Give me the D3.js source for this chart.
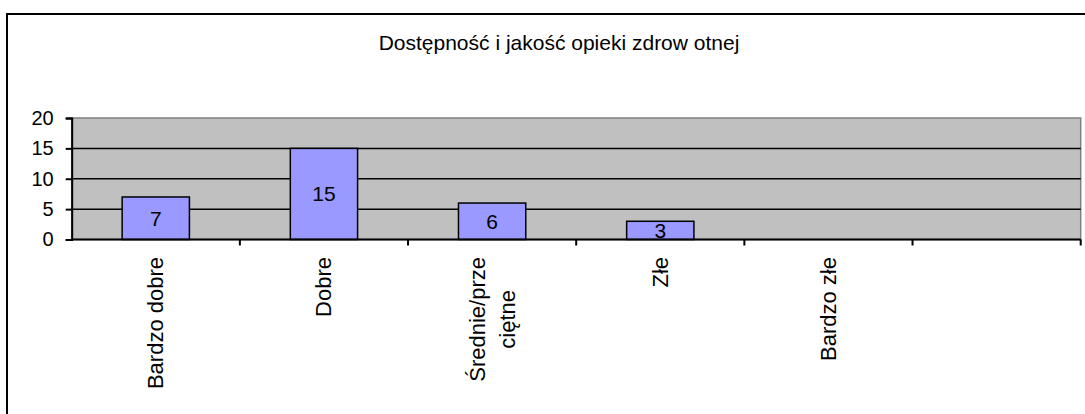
<!DOCTYPE html>
<html>
<head>
<meta charset="utf-8">
<script src="https://cdn.jsdelivr.net/npm/d3@7"></script>
<style>
  body { margin: 0; background: #fff; }
  svg { display: block; font-family: "Liberation Sans", Arial, sans-serif; }
</style>
</head>
<body>
<script>
'use strict';

var width = 1085,
    height = 414;

// data
var categories = ["Bardzo dobre", "Dobre", "Średnie/przeciętne", "Złe", "Bardzo złe", ""];
var labelLines = [["Bardzo dobre"], ["Dobre"], ["Średnie/prze", "ciętne"], ["Złe"], ["Bardzo złe"], [""]];
var values = [7, 15, 6, 3, null, null];
var yTicks = [0, 5, 10, 15, 20];
var title = "Dostępność i jakość opieki zdrow otnej";

var plot = {left: 71.7, right: 1080.7, top: 118, bottom: 239.5};

var svg = d3.select("body").append("svg")
  .attr("width", width)
  .attr("height", height);

// outer frame (runs off the right and bottom edges)
svg.append("rect")
  .attr("x", 7).attr("y", 14)
  .attr("width", 1120).attr("height", 440)
  .attr("fill", "#fff")
  .attr("stroke", "#000")
  .attr("stroke-width", 2);

svg.append("text")
  .attr("x", 559).attr("y", 50)
  .attr("text-anchor", "middle")
  .attr("font-size", 21)
  .text(title);

var x = d3.scaleBand()
  .domain(categories.map(function(d, i) { return i; }))
  .range([plot.left, plot.right])
  .padding(0);

var y = d3.scaleLinear()
  .domain([0, 20])
  .range([plot.bottom, plot.top]);

// plot background
svg.append("rect")
  .attr("x", plot.left).attr("y", plot.top)
  .attr("width", plot.right - plot.left)
  .attr("height", plot.bottom - plot.top)
  .attr("fill", "#c0c0c0")
  .attr("stroke", "#808080")
  .attr("stroke-width", 1.5);

// gridlines
svg.selectAll("line.grid")
  .data(yTicks.filter(function(t) { return t > 0 && t < 20; }))
  .enter().append("line")
  .attr("class", "grid")
  .attr("x1", plot.left).attr("x2", plot.right)
  .attr("y1", function(d) { return y(d); })
  .attr("y2", function(d) { return y(d); })
  .attr("stroke", "#000")
  .attr("stroke-width", 1.5);

// bars
var barW = x.bandwidth() / 2.5;
var bars = values.map(function(v, i) { return {i: i, v: v}; })
  .filter(function(d) { return d.v != null; });

svg.selectAll("rect.bar")
  .data(bars)
  .enter().append("rect")
  .attr("class", "bar")
  .attr("x", function(d) { return x(d.i) + (x.bandwidth() - barW) / 2; })
  .attr("y", function(d) { return y(d.v); })
  .attr("width", barW)
  .attr("height", function(d) { return y(0) - y(d.v); })
  .attr("fill", "#9999ff")
  .attr("stroke", "#000")
  .attr("stroke-width", 1.5);

svg.selectAll("text.val")
  .data(bars)
  .enter().append("text")
  .attr("class", "val")
  .attr("x", function(d) { return x(d.i) + x.bandwidth() / 2; })
  .attr("y", function(d) { return (y(d.v) + y(0)) / 2; })
  .attr("dy", "0.36em")
  .attr("text-anchor", "middle")
  .attr("font-size", 21)
  .text(function(d) { return d.v; });

// y axis
var yAxis = svg.append("g")
  .attr("transform", "translate(" + plot.left + ",0)")
  .call(d3.axisLeft(y).tickValues(yTicks).tickSize(6).tickPadding(12));
yAxis.select(".domain").attr("stroke-width", 2);
yAxis.selectAll(".tick line").attr("stroke-width", 2);
yAxis.selectAll(".tick text")
  .attr("font-size", 20)
  .attr("font-family", "Liberation Sans, Arial, sans-serif")
  .attr("fill", "#000");

// x axis line and ticks at category boundaries
svg.append("line")
  .attr("x1", plot.left).attr("x2", plot.right)
  .attr("y1", plot.bottom).attr("y2", plot.bottom)
  .attr("stroke", "#000")
  .attr("stroke-width", 2);

var bounds = categories.map(function(d, i) { return x(i); }).concat([x.range()[1]]);
svg.selectAll("line.xtick")
  .data(bounds.slice(1))
  .enter().append("line")
  .attr("class", "xtick")
  .attr("x1", function(d) { return d; }).attr("x2", function(d) { return d; })
  .attr("y1", plot.bottom).attr("y2", plot.bottom + 6)
  .attr("stroke", "#000")
  .attr("stroke-width", 2);

// rotated category labels
var lineH = 30;
var labelTop = 257;
labelLines.forEach(function(lines, i) {
  var cx = x(i) + x.bandwidth() / 2;
  var g = svg.append("g");
  var texts = lines.map(function(l) {
    return g.append("text")
      .attr("font-size", 22)
      .attr("text-anchor", "middle")
      .text(l);
  });
  var maxLen = d3.max(texts, function(t) { return t.node().getComputedTextLength(); });
  var cy = labelTop + maxLen / 2;
  texts.forEach(function(t, k) {
    var off = (k - (lines.length - 1) / 2) * lineH;
    t.attr("transform", "translate(" + (cx + off + 7.5) + "," + cy + ") rotate(-90)");
  });
});
</script>
</body>
</html>
